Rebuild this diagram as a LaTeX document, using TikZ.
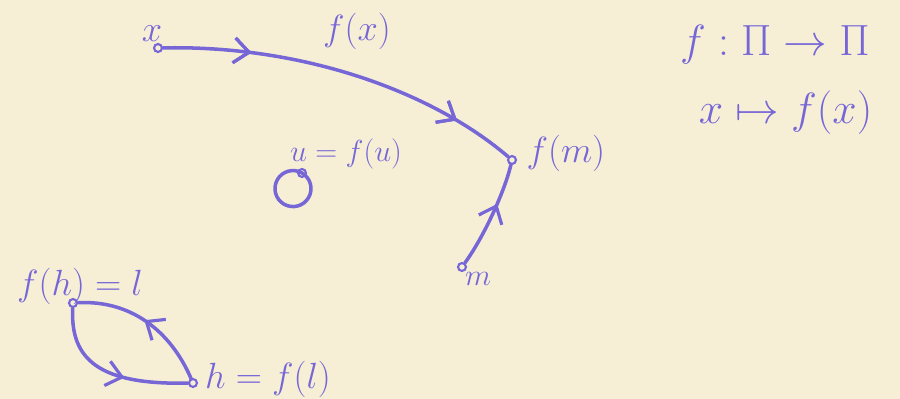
\documentclass[tikz,border=0pt]{standalone}
\usepackage{tikz}
\usetikzlibrary{arrows.meta, positioning, decorations.markings}

\definecolor{ink}{RGB}{118,102,214}
\definecolor{paper}{RGB}{246,239,214}

\begin{document}
\begin{tikzpicture}[
  font=\fontsize{20}{24}\selectfont,
  pt/.style={circle, draw=ink, fill=paper, line width=1.2pt, inner sep=1.6pt},
  lbl/.style={text=ink, inner sep=1pt},
  path/.style={draw=ink, line width=2pt, line cap=round},
  midarr/.style={postaction={decorate}, decoration={markings,
      mark=at position #1 with {\arrow[ink, line width=1.8pt]{Straight Barb[length=3mm, width=5mm]}}}}
]
  % paper
  \fill[paper] (0,0) rectangle (18,-7.98);
  \useasboundingbox (0,0) rectangle (18,-7.98);

  % points
  \node[pt] (x) at (3.16,-0.96) {};
  \node[pt] (fm) at (10.24,-3.2) {};
  \node[pt] (m) at (9.24,-5.34) {};
  \node[pt] (u) at (6.04,-3.46) {};
  \node[pt] (l) at (1.46,-6.06) {};
  \node[pt] (h) at (3.86,-7.66) {};

  % labels
  \node[lbl] (xlab) at (3.04,-0.68) {$x$};
  \node[lbl] (fxlab) at (7.14,-0.62) {$f(x)$};
  \node[lbl, right=0.15cm of fm, yshift=4pt] (fmlab) {$f(m)$};
  \node[lbl, below right=0.0cm and -0.05cm of m, font=\fontsize{16}{18}\selectfont] (mlab) {$m$};
  \node[lbl, font=\fontsize{18}{22}\selectfont] (ulab) at (6.92,-3.08) {$u = f(u)$};
  \node[lbl] (llab) at (1.6,-5.72) {$f(h) = l$};
  \node[lbl, right=0.1cm of h, yshift=2pt] (hlab) {$h = f(l)$};

  % the map
  \node[lbl, font=\fontsize{26}{30}\selectfont] (maplab) at (15.5,-0.9) {$f : \Pi \to \Pi$};
  \node[lbl, font=\fontsize{26}{30}\selectfont, below=0.45cm of maplab, xshift=6pt] (rulelab) {$x \mapsto f(x)$};

  % orbits
  \draw[path, midarr=0.24, midarr=0.83] (x) .. controls (6.0,-0.9) and (8.6,-1.8) .. (fm);
  \draw[path, midarr=0.62] (m) .. controls (9.7,-4.7) and (10.1,-3.8) .. (fm);
  \draw[path] (u) arc[start angle=60, end angle=420, radius=0.36];
  \draw[path, midarr=0.6] (l) .. controls (1.4,-7.2) and (2.0,-7.7) .. (h);
  \draw[path, midarr=0.52] (h) .. controls (3.4,-6.6) and (2.6,-6.0) .. (l);
\end{tikzpicture}
\end{document}
